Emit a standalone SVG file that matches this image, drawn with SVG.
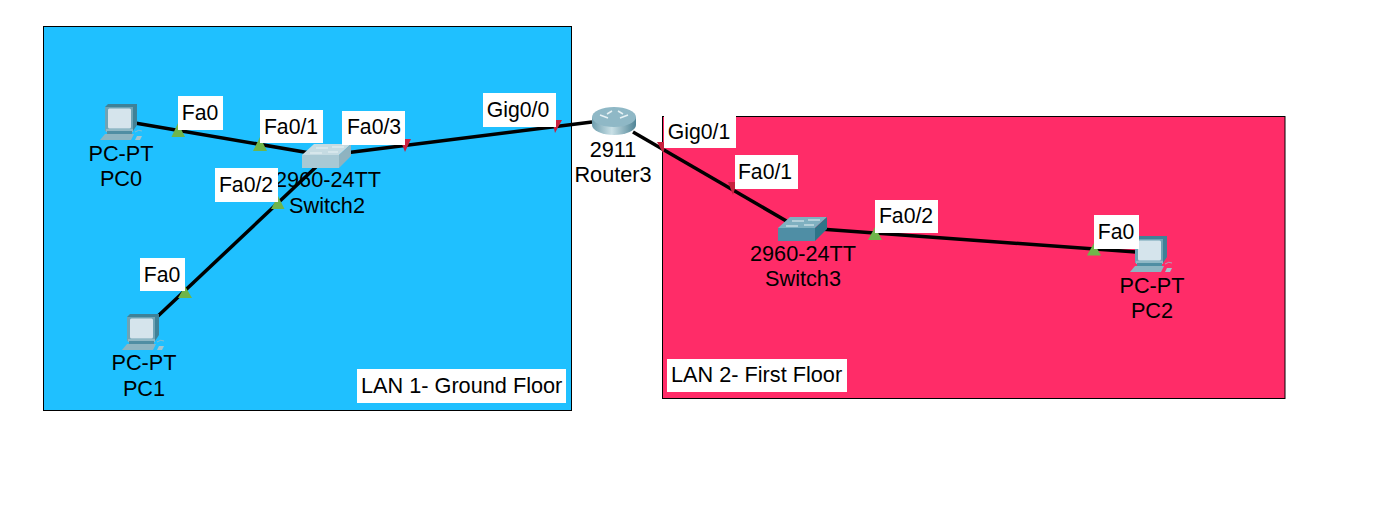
<svg xmlns="http://www.w3.org/2000/svg" width="1373" height="505" viewBox="0 0 1373 505">
<style>
text{font-family:"Liberation Sans",Arial,sans-serif;fill:#000}
.n{font-size:21.7px;text-anchor:middle}
.p{font-size:21.2px;text-anchor:middle}
.a{font-size:21.7px}
.w{fill:#fff}
.l{stroke:#000;stroke-width:3.5;fill:none}
.g{fill:#6fb54a}
.r{fill:#c8213f}
</style>
<defs>
<linearGradient id="rg" x1="0" x2="1" y1="0" y2="0"><stop offset="0" stop-color="#6f9eae"/><stop offset=".45" stop-color="#c9e0e6"/><stop offset="1" stop-color="#4f8496"/></linearGradient>
<g id="pc">
<path d="M5 3 8 0H37V21L33 27H5Z" fill="#3f8197"/>
<path d="M5 3H33V27H5Z" fill="#6ea3b5"/>
<rect x="8" y="4.500" width="23" height="20" rx="1.500" fill="#d5e4ec"/>
<path d="M6 25H33V28H6Z" fill="#8fb8c5"/>
<path d="M7 27H32V31H7Z" fill="#4f8ea3"/>
<path d="M0 36 5 30H34L31 36Z" fill="#8db5c2"/>
<path d="M35 36 37 32H42L40 36Z" fill="#a5c5cf"/>
<path d="M35 28q4-3 7-1" fill="none" stroke="#9dbdc8" stroke-width=".8"/>
</g>
<g id="sw">
<path d="M0 11 12 0H49L37 11Z" fill="var(--t)"/>
<path d="M0 11H37V24H0Z" fill="var(--f)"/>
<path d="M37 11 49 0V12L37 24Z" fill="var(--s)"/>
<path d="M14 4H26M30 3H42M8 9H20M26 8H36" stroke="#e8f2f5" stroke-width="1"/>
</g>
</defs>

<rect x="43.500" y="26.500" width="528" height="384" fill="#1fc0ff" stroke="#000"/>
<rect x="662.500" y="116.500" width="622.500" height="282" fill="#ff2c68" stroke="#000"/>
<rect x="357" y="369" width="209" height="34" class="w"/>
<text x="361" y="393" class="a">LAN 1- Ground Floor</text>
<rect x="667" y="359" width="180" height="33" class="w"/>
<text x="671" y="382" class="a">LAN 2- First Floor</text>

<g id="connectors">
<path class="l" d="M135 123 310 153"/>
<path class="l" d="M345 153 592 122"/>
<path class="l" d="M316 167 158 316"/>
<path class="l" d="M633 132 795 226"/>
<path class="l" d="M820 229 1136 252"/>
<polygon class="g" points="178,123 185,137 171.500,137"/>
<polygon class="g" points="260,137 267,151 253,151"/>
<polygon class="g" points="278,196 284.500,209 271,209"/>
<polygon class="g" points="185,286 192,298 178,298"/>
<polygon class="g" points="875,227 882,240 868,240"/>
<polygon class="g" points="1094,243 1101,255.500 1087,255.500"/>
<polygon class="r" points="400,139 411,139 405,152"/>
<polygon class="r" points="552,120 562,120 555,133"/>
<polygon class="r" points="657,142 667,142 663,153"/>
<polygon class="r" points="728,182 737,182 733,195"/>
</g>

<g id="PC0"><use href="#pc" x="100" y="104"/><text x="121" y="161" class="n">PC-PT</text><text x="121" y="186" class="n">PC0</text></g>
<g id="PC1"><use href="#pc" x="122" y="314"/><text x="144" y="370" class="n">PC-PT</text><text x="144" y="396" class="n">PC1</text></g>
<g id="PC2"><use href="#pc" x="1130" y="236"/><text x="1152" y="293" class="n">PC-PT</text><text x="1152" y="318" class="n">PC2</text></g>
<g id="Switch2" style="--t:#c5dbe2;--f:#a9c9d4;--s:#8fb3c0"><use href="#sw" x="302" y="144"/><text x="328" y="187" class="n">2960-24TT</text><text x="327" y="213" class="n">Switch2</text></g>
<g id="Switch3" style="--t:#7fb0c0;--f:#4f8ea5;--s:#2f7488"><use href="#sw" x="778" y="217"/><text x="803" y="261" class="n">2960-24TT</text><text x="803" y="286" class="n">Switch3</text></g>
<g id="Router3"><ellipse cx="614" cy="125" rx="22" ry="10" fill="url(#rg)"/><rect x="592" y="117" width="44" height="8" fill="url(#rg)"/><ellipse cx="614" cy="117" rx="22" ry="10" fill="#8fb8c6"/><path d="M600 115l8 3M628 115l-8 3M612 111l-5 3M618 111l5 3" stroke="#e6f1f4" stroke-width="1.500"/><text x="613" y="157" class="n">2911</text><text x="613" y="182" class="n">Router3</text></g>

<g id="port-labels">
<rect x="178" y="96" width="45" height="34" class="w"/><text x="200" y="120" class="p">Fa0</text>
<rect x="260" y="110" width="63" height="33" class="w"/><text x="291" y="134" class="p">Fa0/1</text>
<rect x="342" y="111" width="63" height="34" class="w"/><text x="374" y="134" class="p">Fa0/3</text>
<rect x="215" y="168" width="63" height="34" class="w"/><text x="246" y="192" class="p">Fa0/2</text>
<rect x="140" y="258" width="45" height="33" class="w"/><text x="162" y="282" class="p">Fa0</text>
<rect x="483" y="93" width="73" height="34" class="w"/><text x="518" y="117" class="p">Gig0/0</text>
<rect x="664" y="116" width="72" height="32" class="w"/><text x="699" y="139" class="p">Gig0/1</text>
<rect x="735" y="155" width="63" height="34" class="w"/><text x="765" y="179" class="p">Fa0/1</text>
<rect x="875" y="200" width="63" height="33" class="w"/><text x="906" y="223" class="p">Fa0/2</text>
<rect x="1094" y="215" width="45" height="34" class="w"/><text x="1116" y="239" class="p">Fa0</text>
</g>
</svg>
